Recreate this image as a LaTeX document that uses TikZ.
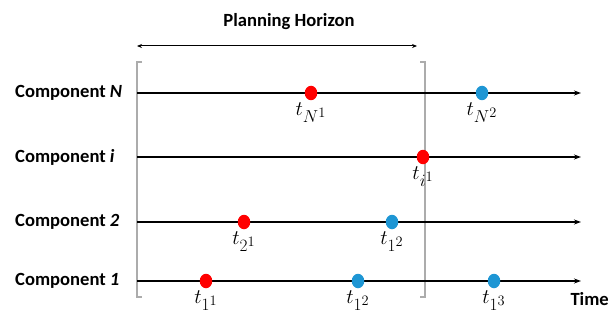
\documentclass[tikz,border=0pt]{standalone}
\usepackage{fontspec}
\setmainfont{Carlito}
\usetikzlibrary{arrows.meta,shapes.geometric,positioning}
\definecolor{latered}{RGB}{255,0,0}
\definecolor{earlyblue}{RGB}{30,150,212}
\definecolor{framegray}{RGB}{172,172,172}
\DeclareMathSizes{22}{22}{17}{14}

\begin{document}
\begin{tikzpicture}[x=1pt, y=-1pt,
  comp/.style={anchor=west, inner sep=0pt, font=\bfseries\fontsize{18.6}{21}\selectfont},
  timeline/.style={-{Stealth[length=7pt, width=5pt]}, line width=1.3pt},
  horizon/.style={{Stealth[length=5pt, width=4pt]}-{Stealth[length=5pt, width=4pt]}, line width=1pt},
  frame/.style={framegray, line width=1.2pt},
  event/.style={ellipse, minimum width=12.5pt, minimum height=14.5pt, inner sep=0pt},
  late/.style={event, fill=latered},
  early/.style={event, fill=earlyblue},
  tlabel/.style={inner sep=0pt, font=\fontsize{22}{25}\selectfont}
]
  \useasboundingbox (0,0) rectangle (611,321);

  % Planning horizon
  \coordinate (hl) at (137,46);
  \coordinate (hr) at (417,46);
  \draw[horizon] (hl) -- (hr);
  \node[font=\bfseries\fontsize{18.6}{21}\selectfont] (ph) at (289,22) {Planning Horizon};
  \draw[frame] (142,62) -- (137,62) -- (137,297) -- (142,297);
  \draw[frame] (420,62) -- (425,62) -- (425,297) -- (420,297);

  % Components
  \node[comp] (cN) at (15,93) {Component \textit{N}};
  \node[comp] (ci) at (15,157) {Component \textit{i}};
  \node[comp] (c2) at (15,222) {Component \textit{2}};
  \node[comp] (c1) at (15,281) {Component \textit{1}};

  % Time axes
  \foreach \k/\y in {N/93, i/157, 2/222, 1/281}{
    \coordinate (s\k) at (137,\y);
    \coordinate (e\k) at (581,\y);
    \draw[timeline] (s\k) -- (e\k);
  }
  \node[comp, anchor=base east] (time) at (609,305) {Time};

  % Events
  \node[late]  (dN1) at (311,93) {};
  \node[early] (dN2) at (482,93) {};
  \node[late]  (di1) at (423,157) {};
  \node[late]  (d21) at (244,222) {};
  \node[early] (d22) at (392,222) {};
  \node[late]  (d11) at (206,281) {};
  \node[early] (d12) at (358,281) {};
  \node[early] (d13) at (494,281) {};

  \node[tlabel, below=2pt of dN1] (tN1) {$t_{N^1}$};
  \node[tlabel, below=2pt of dN2] (tN2) {$t_{N^2}$};
  \node[tlabel, below=2pt of di1] (ti1) {$t_{i^1}$};
  \node[tlabel, below=2pt of d21] (t21) {$t_{2^1}$};
  \node[tlabel, below=2pt of d22] (t22) {$t_{1^2}$};
  \node[tlabel, below=2pt of d11] (t11) {$t_{1^1}$};
  \node[tlabel, below=2pt of d12] (t12) {$t_{1^2}$};
  \node[tlabel, below=2pt of d13] (t13) {$t_{1^3}$};

\end{tikzpicture}
\end{document}
